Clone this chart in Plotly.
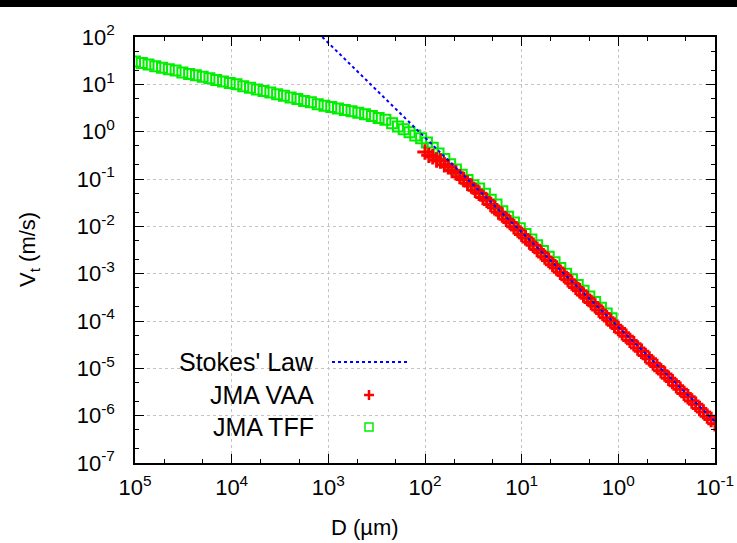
import plotly.graph_objects as go

# ---- data (log10 values) ----
stokes_D = [1154, 0.1]          # µm
stokes_V = [100.0, 7.5e-7]      # m/s

vaa_logD = [2.00, 1.96, 1.92, 1.88, 1.84, 1.80, 1.76, 1.72, 1.68, 1.64, 1.60, 1.56, 1.52, 1.48, 1.44, 1.40,
            1.36, 1.32, 1.28, 1.24, 1.20, 1.16, 1.12, 1.08, 1.04, 1.00, 0.96, 0.92, 0.88, 0.84, 0.80, 0.76,
            0.72, 0.68, 0.64, 0.60, 0.56, 0.52, 0.48, 0.44, 0.40, 0.36, 0.32, 0.28, 0.24, 0.20, 0.16, 0.12,
            0.08, 0.04, 0.00, -0.04, -0.08, -0.12, -0.16, -0.20, -0.24, -0.28, -0.32, -0.36, -0.40, -0.44,
            -0.48, -0.52, -0.56, -0.60, -0.64, -0.68, -0.72, -0.76, -0.80, -0.84, -0.88, -0.92, -0.96, -1.00]
vaa_logV = [-0.43, -0.50, -0.53, -0.60, -0.62, -0.70, -0.74, -0.82, -0.87, -0.95, -1.01, -1.09, -1.15, -1.24,
            -1.30, -1.39, -1.45, -1.54, -1.61, -1.70, -1.76, -1.85, -1.92, -2.01, -2.08, -2.17, -2.24, -2.33,
            -2.40, -2.49, -2.56, -2.65, -2.72, -2.81, -2.88, -2.97, -3.04, -3.13, -3.20, -3.29, -3.36, -3.45,
            -3.52, -3.61, -3.68, -3.77, -3.84, -3.93, -4.00, -4.09, -4.16, -4.25, -4.32, -4.41, -4.48, -4.57,
            -4.64, -4.73, -4.80, -4.89, -4.96, -5.05, -5.12, -5.21, -5.28, -5.37, -5.44, -5.53, -5.60, -5.69,
            -5.76, -5.85, -5.92, -6.01, -6.08, -6.17]

tff_logD = [5.00, 4.93, 4.86, 4.79, 4.72, 4.65, 4.58, 4.51, 4.44, 4.37, 4.30, 4.23, 4.16, 4.09, 4.02,
            3.95, 3.88, 3.81, 3.74, 3.67, 3.60, 3.53, 3.46, 3.39, 3.32, 3.25, 3.18, 3.11, 3.04, 2.97,
            2.90, 2.83, 2.76, 2.69, 2.62, 2.55, 2.48, 2.41, 2.34, 2.28, 2.22, 2.16, 2.10, 2.04, 1.98,
            1.92, 1.86, 1.80, 1.74, 1.68, 1.62, 1.56, 1.50, 1.44, 1.38, 1.32, 1.26, 1.20, 1.14, 1.08,
            1.02, 0.96, 0.90, 0.84, 0.78, 0.72, 0.66, 0.60, 0.54, 0.48, 0.42, 0.36, 0.30, 0.24, 0.18,
            0.12, 0.07]
tff_logV = [1.48, 1.45, 1.42, 1.38, 1.35, 1.32, 1.29, 1.25, 1.22, 1.19, 1.16, 1.13, 1.09, 1.06, 1.03,
            1.00, 0.96, 0.93, 0.89, 0.86, 0.83, 0.79, 0.76, 0.72, 0.69, 0.65, 0.62, 0.58, 0.55, 0.52,
            0.49, 0.46, 0.43, 0.40, 0.37, 0.33, 0.29, 0.25, 0.18, 0.11, 0.05, -0.01, -0.08, -0.14, -0.23,
            -0.34, -0.46, -0.58, -0.69, -0.80, -0.91, -1.02, -1.13, -1.20, -1.31, -1.44, -1.54, -1.68, -1.80,
            -1.92, -2.04, -2.16, -2.28, -2.40, -2.52, -2.64, -2.76, -2.88, -3.00, -3.12, -3.24, -3.36, -3.48,
            -3.60, -3.72, -3.84, -3.94]

x_tick_exp = [5, 4, 3, 2, 1, 0, -1]
y_tick_exp = [2, 1, 0, -1, -2, -3, -4, -5, -6, -7]

legend_names = ["Stokes' Law", "JMA VAA", "JMA TFF"]

FONT = "Liberation Sans, Arial, Helvetica, sans-serif"
BLUE, RED, GREEN = "#0000ff", "#ff0000", "#00ee00"

fig = go.Figure()
fig.add_trace(go.Scatter(x=[10 ** d for d in tff_logD], y=[10 ** v for v in tff_logV], mode="markers",
                         marker=dict(symbol="square-open", size=10, color=GREEN, line=dict(width=2, color=GREEN)),
                         name=legend_names[2]))
fig.add_trace(go.Scatter(x=[10 ** d for d in vaa_logD], y=[10 ** v for v in vaa_logV], mode="markers",
                         marker=dict(symbol="cross-thin", size=11, color=RED, line=dict(width=3, color=RED)),
                         name=legend_names[1]))
fig.add_trace(go.Scatter(x=stokes_D, y=stokes_V, mode="lines", name=legend_names[0],
                         line=dict(color=BLUE, width=2, dash="dot")))

axis_common = dict(type="log", showline=True, linecolor="black", linewidth=1.5, mirror="allticks",
                   ticks="inside", ticklen=9, tickwidth=1, tickcolor="black", automargin=False,
                   showgrid=True, gridcolor="#c4c4c4", griddash="dot", gridwidth=1,
                   zeroline=False, tickfont=dict(family=FONT, size=22, color="black"),
                   minor=dict(ticks="inside", ticklen=4, tickcolor="black", showgrid=False))

fig.update_xaxes(**axis_common, range=[5, -1],
                 tickmode="array", tickvals=[10.0 ** e for e in x_tick_exp],
                 ticktext=[f"10<sup>{e}</sup>" for e in x_tick_exp], ticklabelstandoff=4)
fig.update_yaxes(**axis_common, range=[-7, 2],
                 tickmode="array", tickvals=[10.0 ** e for e in y_tick_exp],
                 ticktext=[f"10<sup>{e}</sup>" for e in y_tick_exp], ticklabelstandoff=14)

W, H = 737, 543
L, R, T, B = 135, 22, 37, 80
pw, ph = W - L - R, H - T - B
def px(x): return (x - L) / pw
def py(y): return (H - B - y) / ph

shapes = [
    dict(type="rect", xref="paper", yref="paper", x0=px(-5), x1=px(W + 5), y0=py(7), y1=py(-5),
         fillcolor="black", line=dict(width=0), layer="above"),
    # legend samples
    dict(type="line", xref="paper", yref="paper", x0=px(332), x1=px(407), y0=py(362), y1=py(362),
         line=dict(color=BLUE, width=2, dash="dot")),
    dict(type="line", xref="paper", yref="paper", x0=px(364), x1=px(374), y0=py(395), y1=py(395),
         line=dict(color=RED, width=2.5)),
    dict(type="line", xref="paper", yref="paper", x0=px(369), x1=px(369), y0=py(390), y1=py(400),
         line=dict(color=RED, width=2.5)),
    dict(type="rect", xref="paper", yref="paper", x0=px(365), x1=px(373), y0=py(423), y1=py(431),
         line=dict(color=GREEN, width=1.5)),
]

annotations = [
    dict(text=legend_names[0], x=px(316), y=py(362), xref="paper", yref="paper", xanchor="right",
         yanchor="middle", showarrow=False, font=dict(family=FONT, size=25, color="black")),
    dict(text=legend_names[1], x=px(316), y=py(395), xref="paper", yref="paper", xanchor="right",
         yanchor="middle", showarrow=False, font=dict(family=FONT, size=25, color="black")),
    dict(text=legend_names[2], x=px(316), y=py(427), xref="paper", yref="paper", xanchor="right",
         yanchor="middle", showarrow=False, font=dict(family=FONT, size=25, color="black")),
    dict(text="D (µm)", x=px(365), y=py(527), xref="paper", yref="paper", xanchor="center",
         yanchor="middle", showarrow=False, font=dict(family=FONT, size=22, color="black")),
    dict(text="V<sub>t</sub> (m/s)", x=px(29), y=py(250), xref="paper", yref="paper", xanchor="center",
         yanchor="middle", textangle=-90, showarrow=False, font=dict(family=FONT, size=22, color="black")),
]

fig.update_layout(template="none", width=W, height=H, margin=dict(l=L, r=R, t=T, b=B, autoexpand=False),
                  plot_bgcolor="white", paper_bgcolor="white", showlegend=False,
                  shapes=shapes, annotations=annotations)

fig.write_html("out.html", config={"displayModeBar": False},
               post_script="document.body.style.margin='0';document.body.style.padding='0';")
